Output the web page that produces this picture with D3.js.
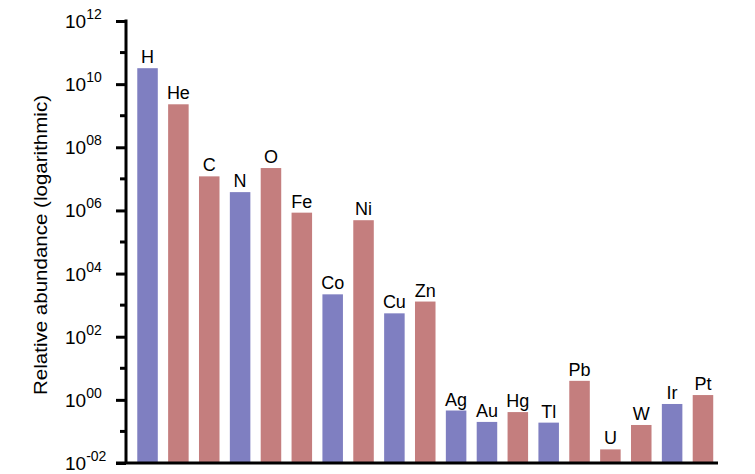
<!DOCTYPE html>
<html><head><meta charset="utf-8">
<script src="https://cdn.jsdelivr.net/npm/d3@7"></script>
<style>body{margin:0;background:#fff}svg{display:block}text{font-family:"Liberation Sans",Arial,sans-serif}</style>
</head><body><svg id="c" width="755" height="474"></svg>
<script>
const elements = ["H","He","C","N","O","Fe","Co","Ni","Cu","Zn","Ag","Au","Hg","Tl","Pb","U","W","Ir","Pt"];
const abundance = [3.2e10,2.3e9,1.2e7,3.8e6,2.2e7,8.5e5,2.2e3,4.9e5,550,1.3e3,0.46,0.20,0.41,0.19,4.0,0.027,0.16,0.74,1.42];
const groups = ["b","r","r","b","r","r","b","r","b","r","b","b","r","b","r","r","r","b","r"];
const majorExps = [-2,0,2,4,6,8,10,12];
const tickLabels = ["-02","00","02","04","06","08","10","12"];
const minorExps = [-1,1,3,5,7,9,11];
const yTitle = "Relative abundance (logarithmic)";

const svg = d3.select("#c");
const colors = {b:"#7f7fc1", r:"#c47e7e"};
const y = d3.scaleLog().domain([1e-2,1e12]).range([463,21]);
const x = d3.scaleBand().domain(elements).range([132.1,718.4]).paddingInner(0.335).paddingOuter(0.1675);

svg.selectAll("rect.bar").data(elements).join("rect").attr("class","bar")
  .attr("x",d=>x(d)).attr("width",x.bandwidth())
  .attr("y",(d,i)=>y(abundance[i])).attr("height",(d,i)=>463-y(abundance[i]))
  .attr("fill",(d,i)=>colors[groups[i]]);

svg.selectAll("text.lab").data(elements).join("text").attr("class","lab")
  .attr("x",d=>x(d)+x.bandwidth()/2).attr("y",(d,i)=>y(abundance[i])-5)
  .attr("text-anchor","middle").attr("font-size",18).attr("fill","#000").text(d=>d);

// y axis
const axG = svg.append("g").attr("transform","translate(126,0)");
axG.call(d3.axisLeft(y).tickValues(majorExps.map(e=>Math.pow(10,e))).tickSize(10).tickFormat(""));
axG.call(g=>g.select(".domain").attr("d","M0,19.5V464").attr("stroke","#000").attr("stroke-width",3));
axG.selectAll(".tick line").attr("stroke","#000").attr("stroke-width",3);
const minG = svg.append("g").attr("transform","translate(126,0)");
minG.selectAll("line").data(minorExps).join("line")
  .attr("x1",-6).attr("x2",0).attr("y1",e=>y(Math.pow(10,e))).attr("y2",e=>y(Math.pow(10,e)))
  .attr("stroke","#000").attr("stroke-width",3);

// tick labels
const tl = svg.append("g").selectAll("text").data(majorExps).join("text")
  .attr("x",65).attr("y",e=>y(Math.pow(10,e))+7).attr("fill","#000");
tl.append("tspan").attr("font-size",19).text("10");
tl.append("tspan").attr("font-size",14).attr("dy",-9).text((e,i)=>tickLabels[i]);

// x axis line
svg.append("line").attr("x1",116).attr("x2",718).attr("y1",463).attr("y2",463).attr("stroke","#000").attr("stroke-width",3);

// y title
svg.append("text").attr("transform","translate(47,245) rotate(-90)").attr("text-anchor","middle")
  .attr("font-size",18).attr("textLength",300).attr("lengthAdjust","spacingAndGlyphs")
  .attr("fill","#000").text(yTitle);
</script></body></html>
